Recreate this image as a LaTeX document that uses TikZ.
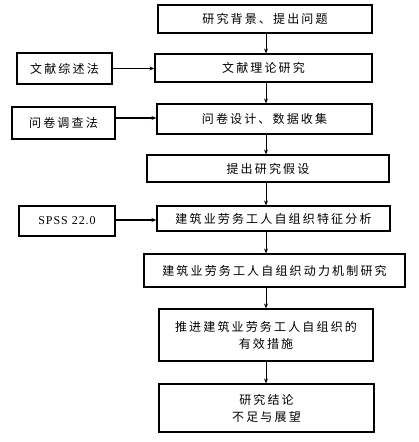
\documentclass[tikz,border=0pt]{standalone}
\usepackage{fontspec}
\setmainfont{Liberation Serif}
\newfontfamily\cjk[LetterSpace=18]{Noto Sans CJK SC}
\newfontfamily\latn[LetterSpace=8]{Liberation Serif}
\usetikzlibrary{arrows.meta}
\begin{document}
\begin{tikzpicture}[x=1pt,y=-1pt,
  box/.style={draw=black,line width=1.1pt,inner sep=0pt,align=center,font=\cjk\fontsize{12}{17}\selectfont},
  side/.style={box,line width=1.4pt},
  arr/.style={-{Stealth[length=5pt,width=4pt,open]},line width=0.8pt},
  harr/.style={-{Stealth[length=5pt,width=4pt,open]},line width=1.3pt}]
\useasboundingbox (0,0) rectangle (418,442);
\node[box,minimum width=214pt,minimum height=28pt] (b1) at (265,19) {研究背景、提出问题};
\node[box,minimum width=217pt,minimum height=28pt] (b2) at (263.5,68) {文献理论研究};
\node[box,minimum width=215pt,minimum height=30pt] (b3) at (264.5,119) {问卷设计、数据收集};
\node[box,minimum width=242pt,minimum height=27pt] (b4) at (268,168.5) {提出研究假设};
\node[box,minimum width=233pt,minimum height=25pt] (b5) at (273.5,218.5) {建筑业劳务工人自组织特征分析};
\node[box,minimum width=261pt,minimum height=33pt] (b6) at (274.5,270.5) {建筑业劳务工人自组织动力机制研究};
\node[box,minimum width=214pt,minimum height=52pt] (b7) at (266,335) {推进建筑业劳务工人自组织的\\有效措施};
\node[box,minimum width=215pt,minimum height=48pt] (b8) at (266.5,408) {研究结论\\不足与展望};
\node[side,minimum width=95pt,minimum height=31pt] (l1) at (64.5,68.5) {文献综述法};
\node[side,minimum width=103pt,minimum height=32pt] (l2) at (63.5,123) {问卷调查法};
\node[side,minimum width=96pt,minimum height=30pt,font=\latn\fontsize{12}{14}\selectfont] (l3) at (67,221) {SPSS 22.0};
\coordinate (ax) at (266,0);
\draw[arr] (b1.south -| ax) -- (b2.north -| ax);
\draw[arr] (b2.south -| ax) -- (b3.north -| ax);
\draw[arr] (b3.south -| ax) -- (b4.north -| ax);
\draw[arr] (b4.south -| ax) -- (b5.north -| ax);
\draw[arr] (b5.south -| ax) -- (b6.north -| ax);
\draw[arr] (b6.south -| ax) -- (b7.north -| ax);
\draw[arr] (b7.south -| ax) -- (b8.north -| ax);
\draw[arr] (l1.east) -- (l1.east -| b2.west);
\draw[harr] (l2.east |- 0,118) -- (b3.west |- 0,118);
\draw[harr] (l3.east |- 0,220) -- (b5.west |- 0,220);
\end{tikzpicture}
\end{document}
